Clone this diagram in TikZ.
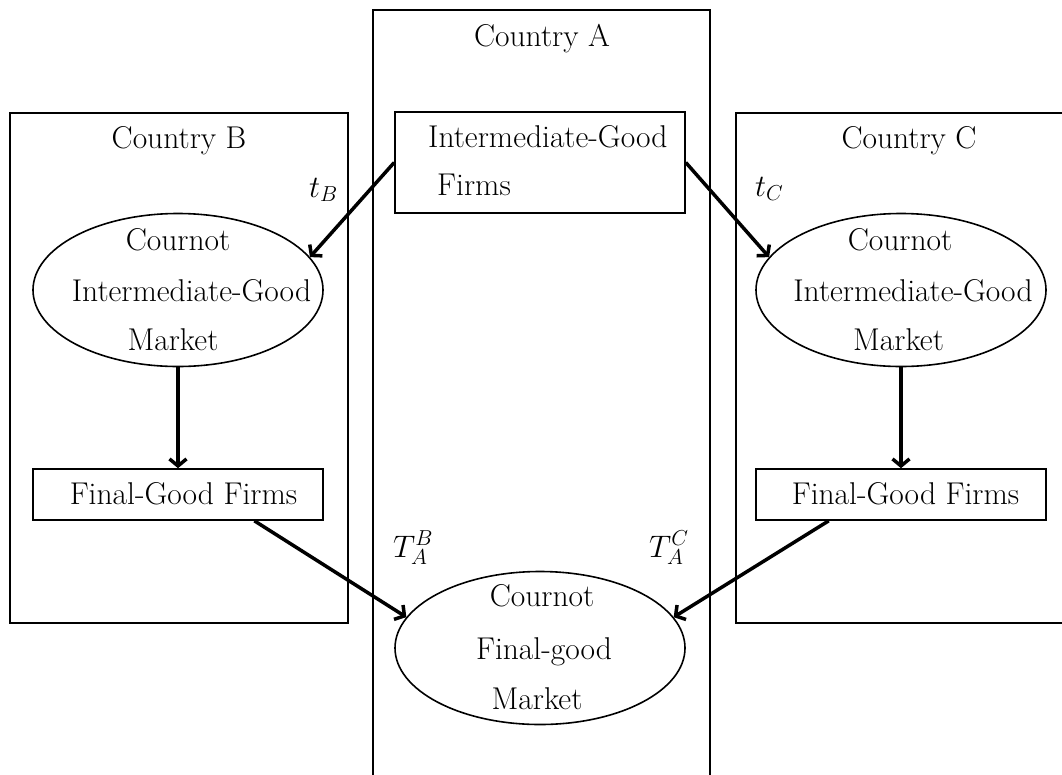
\documentclass[tikz,border=0pt]{standalone}
\usepackage{fontspec}
\usepackage{graphicx}
\usetikzlibrary{shapes.geometric,arrows.meta}
\begin{document}
\begin{tikzpicture}[x=1pt,y=-1pt,
  txt/.style={font=\fontsize{31.5}{38}\selectfont, inner sep=0pt, anchor=base},
  mth/.style={font=\fontsize{20.74}{25}\selectfont, inner sep=0pt, anchor=base west},
  cbox/.style={draw, line width=1.6pt, inner sep=0pt, anchor=north west},
  rbox/.style={draw, line width=1.6pt, inner sep=0pt},
  ell/.style={draw, ellipse, line width=1.6pt, inner sep=0pt, minimum width=290pt, minimum height=153pt},
  arr/.style={line width=3.5pt, -{Straight Barb[length=7pt,width=17pt]}}
]
\useasboundingbox (0,0) rectangle (1062,774);
\clip (0,0) rectangle (1062,774);

% country containers
\node[cbox, minimum width=337pt, minimum height=800pt] (cA) at (372,9) {};
\node[cbox, minimum width=338pt, minimum height=510pt] (cB) at (9,112) {};
\node[cbox, minimum width=400pt, minimum height=510pt] (cC) at (735,112) {};
\node[txt] (tA) at (542,46) {Country A};
\node[txt] (tB) at (179,148) {Country B};
\node[txt] (tC) at (909,148) {Country C};

% intermediate-good firms
\node[rbox, minimum width=290pt, minimum height=101pt] (igf) at (540,162.5) {};
\node[txt, anchor=base west] (igf1) at (428,147) {Intermediate-Good};
\node[txt, anchor=base west] (igf2) at (437,195) {Firms};

% Cournot intermediate markets
\node[ell] (ellL) at (178,290) {};
\node[txt] (ellL1) at (178,250) {Cournot};
\node[txt] (ellL2) at (191.5,301) {Intermediate-Good};
\node[txt] (ellL3) at (173,350) {Market};

\node[ell] (ellR) at (901,290) {};
\node[txt] (ellR1) at (900,250) {Cournot};
\node[txt] (ellR2) at (913,301) {Intermediate-Good};
\node[txt] (ellR3) at (898.5,350) {Market};

% final-good firms
\node[rbox, minimum width=290pt, minimum height=51pt] (fgL) at (178,494.5) {};
\node[txt] (fgL1) at (183.5,504) {Final-Good Firms};
\node[rbox, minimum width=290pt, minimum height=51pt] (fgR) at (901,494.5) {};
\node[txt] (fgR1) at (905.5,504) {Final-Good Firms};

% final-good market
\node[ell] (ellM) at (540,648) {};
\node[txt] (ellM1) at (542,606) {Cournot};
\node[txt] (ellM2) at (544,659) {Final-good};
\node[txt] (ellM3) at (537,709) {Market};

% labels
\node[mth] (lB) at (309,197) {\scalebox{1.5}{$t_B$}};
\node[mth] (lC) at (755,196) {\scalebox{1.5}{$t_C$}};
\node[mth] (lTB) at (393,557) {\scalebox{1.5}{$T_A^B$}};
\node[mth] (lTC) at (649,557) {\scalebox{1.5}{$T_A^C$}};

% arrows
\draw[arr] (igf.west) -- (ellL.14);
\draw[arr] (igf.east) -- (ellR.166);
\draw[arr] (ellL.south) -- (fgL.north);
\draw[arr] (ellR.south) -- (fgR.north);
\draw[arr] (fgL.-19.5) -- (ellM.167);
\draw[arr] (fgR.-160) -- (ellM.13);
\end{tikzpicture}
\end{document}
